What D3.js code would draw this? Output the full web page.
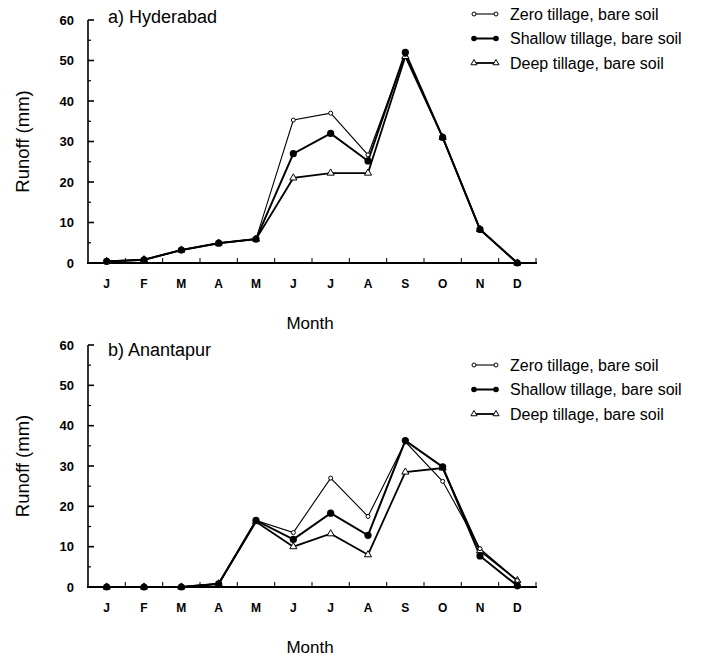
<!DOCTYPE html>
<html>
<head>
<meta charset="utf-8">
<script src="https://cdn.jsdelivr.net/npm/d3@7"></script>
<style>
  body { margin: 0; background: #fff; }
  svg { display: block; font-family: "Liberation Sans", Arial, sans-serif; }
</style>
</head>
<body>
<svg id="chart" width="711" height="659"></svg>
<script>
// Monthly runoff (mm) under three tillage treatments
const months = ['J', 'F', 'M', 'A', 'M', 'J', 'J', 'A', 'S', 'O', 'N', 'D'];
const yTicks = [0, 10, 20, 30, 40, 50, 60];

const hydZero    = [0.4, 0.8, 3.2, 4.9, 5.9, 35.3, 37, 26.7, 51.5, 31, 8.3, 0];
const hydShallow = [0.4, 0.8, 3.2, 4.9, 5.9, 27, 32, 25.2, 52, 31, 8.3, 0];
const hydDeep    = [0.4, 0.8, 3.2, 4.9, 5.9, 21, 22.2, 22.2, 51, 31, 8.3, 0];

const anaZero    = [0, 0, 0, 0.8, 16.5, 13.5, 27, 17.5, 36, 26.2, 9.5, 1.6];
const anaShallow = [0, 0, 0, 0.8, 16.5, 11.8, 18.3, 12.8, 36.3, 29.8, 7.7, 0.3];
const anaDeep    = [0, 0, 0, 0.8, 16.2, 10, 13.2, 8, 28.5, 29.5, 9, 1.6];

const seriesNames = ['Zero tillage, bare soil', 'Shallow tillage, bare soil', 'Deep tillage, bare soil'];

const svg = d3.select('#chart');

const x = d3.scaleBand().domain(d3.range(months.length)).range([88, 536]);
const xc = i => x(i) + x.bandwidth() / 2;

function drawPanel(opts) {
  const y = d3.scaleLinear().domain([0, 60]).range([opts.bottom, opts.top]);
  const g = svg.append('g');

  // y axis line with inward ticks every 5
  g.append('line')
    .attr('x1', 88).attr('x2', 88)
    .attr('y1', y(60)).attr('y2', y(0))
    .attr('stroke', '#000').attr('stroke-width', 1.6);
  g.selectAll('.ytick').data(d3.range(0, 61, 5)).enter().append('line')
    .attr('x1', 88).attr('x2', d => d % 10 === 0 ? 94 : 91)
    .attr('y1', d => y(d)).attr('y2', d => y(d))
    .attr('stroke', '#000').attr('stroke-width', d => d % 10 === 0 ? 1.6 : 1.2);
  g.selectAll('.ylab').data(yTicks).enter().append('text')
    .attr('x', 74).attr('y', d => y(d)).attr('dy', '0.35em')
    .attr('text-anchor', 'end')
    .style('font-size', '13px').style('font-weight', 'bold')
    .text(d => d);

  // x axis with ticks between months
  g.append('line')
    .attr('x1', 87).attr('x2', 537)
    .attr('y1', y(0)).attr('y2', y(0))
    .attr('stroke', '#000').attr('stroke-width', 2.2);
  g.selectAll('.xtick').data(d3.range(1, months.length + 1)).enter().append('line')
    .attr('x1', i => 88 + i * x.step()).attr('x2', i => 88 + i * x.step())
    .attr('y1', y(0)).attr('y2', y(0) - 5)
    .attr('stroke', '#000').attr('stroke-width', 1);
  g.selectAll('.xlab').data(months).enter().append('text')
    .attr('x', (d, i) => xc(i)).attr('y', y(0) + 21).attr('dy', '0.35em')
    .attr('text-anchor', 'middle')
    .style('font-size', '12px').style('font-weight', 'bold')
    .text(d => d);

  g.append('text')
    .attr('x', 310).attr('y', y(0) + 66)
    .attr('text-anchor', 'middle').style('font-size', '17px')
    .text('Month');
  g.append('text')
    .attr('transform', `translate(29, ${(y(0) + y(60)) / 2}) rotate(-90)`)
    .attr('text-anchor', 'middle').style('font-size', '18.5px')
    .text('Runoff (mm)');
  g.append('text')
    .attr('x', 108).attr('y', y(60) + opts.titleDy)
    .style('font-size', '18px')
    .text(opts.title);

  const line = d3.line().x((d, i) => xc(i)).y(d => y(d));

  // lines: deep, zero, shallow
  g.append('path').datum(opts.deep).attr('d', line)
    .attr('fill', 'none').attr('stroke', '#000').attr('stroke-width', 1.8);
  g.append('path').datum(opts.zero).attr('d', line)
    .attr('fill', 'none').attr('stroke', '#000').attr('stroke-width', 1.1);
  g.append('path').datum(opts.shallow).attr('d', line)
    .attr('fill', 'none').attr('stroke', '#000').attr('stroke-width', 2);

  const tri = d3.symbol().type(d3.symbolTriangle).size(22);
  g.selectAll('.tri').data(opts.deep).enter().append('path')
    .attr('d', tri)
    .attr('transform', (d, i) => `translate(${xc(i)},${y(d)})`)
    .attr('fill', '#fff').attr('stroke', '#000').attr('stroke-width', 1);
  g.selectAll('.oc').data(opts.zero).enter().append('circle')
    .attr('cx', (d, i) => xc(i)).attr('cy', d => y(d)).attr('r', 2)
    .attr('fill', '#fff').attr('stroke', '#000').attr('stroke-width', 1);
  g.selectAll('.fc').data(opts.shallow).enter().append('circle')
    .attr('cx', (d, i) => xc(i)).attr('cy', d => y(d)).attr('r', 3.6)
    .attr('fill', '#000');

  // legend
  const ly = opts.legendY;
  const leg = g.selectAll('.leg').data(seriesNames).enter().append('g')
    .attr('transform', (d, i) => `translate(0, ${ly + i * 24.5})`);
  leg.append('line')
    .attr('x1', 474).attr('x2', 496).attr('y1', 0).attr('y2', 0)
    .attr('stroke', '#000').attr('stroke-width', (d, i) => [1.1, 2, 1.8][i]);
  leg.append('text')
    .attr('x', 510).attr('y', 0).attr('dy', '0.35em')
    .style('font-size', '16px')
    .text(d => d);
  leg.each(function(d, i) {
    const s = d3.select(this);
    if (i === 0) {
      [474, 496].forEach(cx => s.append('circle').attr('cx', cx).attr('cy', 0).attr('r', 2)
        .attr('fill', '#fff').attr('stroke', '#000'));
    } else if (i === 1) {
      [474, 496].forEach(cx => s.append('circle').attr('cx', cx).attr('cy', 0).attr('r', 2.8)
        .attr('fill', '#000'));
    } else {
      [474, 496].forEach(cx => s.append('path').attr('d', tri.size(16)())
        .attr('transform', `translate(${cx},0)`)
        .attr('fill', '#fff').attr('stroke', '#000').attr('stroke-width', 1));
    }
  });
}

drawPanel({ top: 20, bottom: 263, title: 'a) Hyderabad', titleDy: 3, zero: hydZero, shallow: hydShallow, deep: hydDeep, legendY: 14 });
drawPanel({ top: 345, bottom: 587, title: 'b) Anantapur', titleDy: 11, zero: anaZero, shallow: anaShallow, deep: anaDeep, legendY: 365 });
</script>
</body>
</html>
